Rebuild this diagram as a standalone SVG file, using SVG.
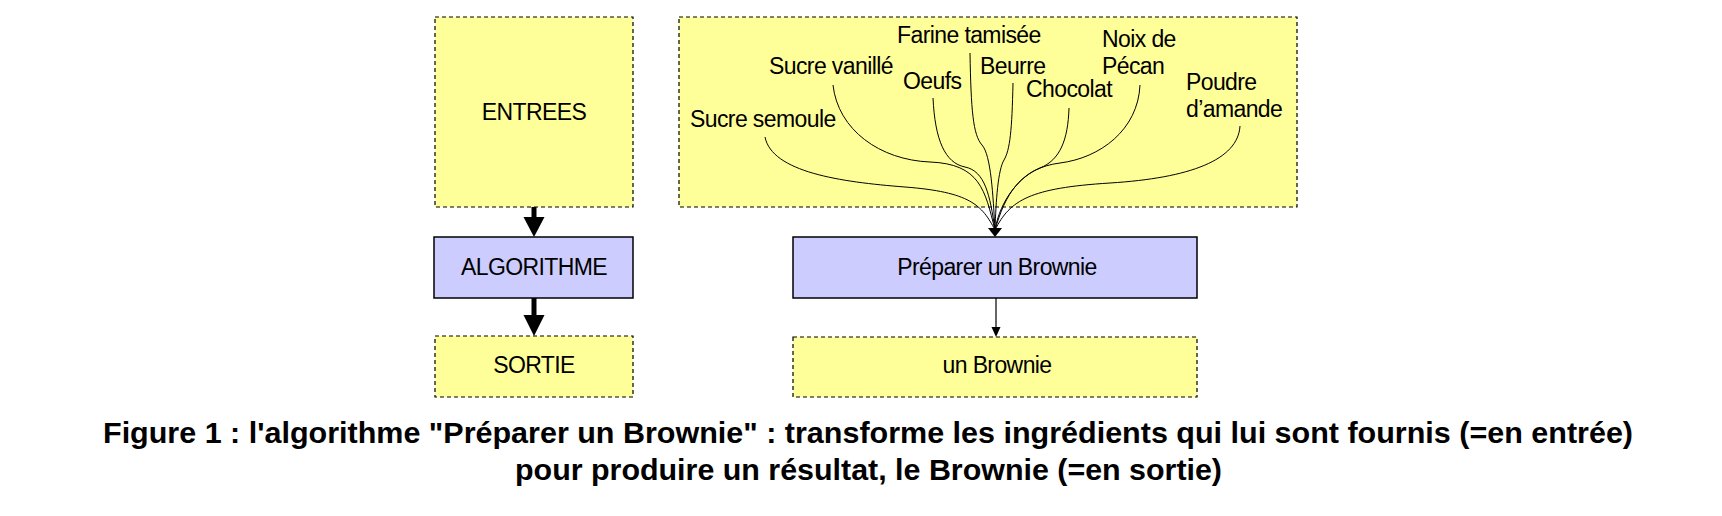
<svg xmlns="http://www.w3.org/2000/svg" width="1722" height="516" viewBox="0 0 1722 516">
<style>
.yel{fill:#ffff99;stroke:#000;stroke-width:1.2;stroke-dasharray:4,3}
.blu{fill:#ccccff;stroke:#000;stroke-width:1.5}
.t{font-family:"Liberation Sans",Arial,sans-serif;font-size:23px;letter-spacing:-0.6px;fill:#000}
.c{text-anchor:middle}
.cap{font-family:"Liberation Sans",Arial,sans-serif;font-size:30px;font-weight:bold;fill:#000}
.fan{fill:none;stroke:#000;stroke-width:1}
</style>
<rect width="1722" height="516" fill="#fff"/>
<g id="entrees"><rect class="yel" x="435" y="17" width="198" height="190"/><text class="t c" x="534" y="120">ENTREES</text></g>
<g id="algorithme"><rect class="blu" x="434" y="237" width="199" height="61"/><text class="t c" x="534" y="275">ALGORITHME</text></g>
<g id="sortie"><rect class="yel" x="435" y="336" width="198" height="61"/><text class="t c" x="534" y="373">SORTIE</text></g>
<g id="ingredients">
<rect class="yel" x="679" y="17" width="618" height="190"/>
<text class="t" x="690" y="127">Sucre semoule</text>
<text class="t" x="769" y="74">Sucre vanillé</text>
<text class="t" x="897" y="43">Farine tamisée</text>
<text class="t" x="903" y="89">Oeufs</text>
<text class="t" x="980" y="74">Beurre</text>
<text class="t" x="1026" y="97">Chocolat</text>
<text class="t" x="1102" y="47">Noix de</text>
<text class="t" x="1102" y="74">Pécan</text>
<text class="t" x="1186" y="90">Poudre</text>
<text class="t" x="1186" y="117">d’amande</text>
</g>
<g id="preparer"><rect class="blu" x="793" y="237" width="404" height="61"/><text class="t c" x="997" y="275">Préparer un Brownie</text></g>
<g id="brownie"><rect class="yel" x="793" y="337" width="404" height="60"/><text class="t c" x="997" y="373">un Brownie</text></g>
<g id="connectors">
<line x1="534" y1="207" x2="534" y2="218" stroke="#000" stroke-width="5"/>
<polygon points="523.5,217 544.5,217 534,237" fill="#000"/>
<line x1="534" y1="298" x2="534" y2="316" stroke="#000" stroke-width="5"/>
<polygon points="523.5,315 544.5,315 534,336" fill="#000"/>
<line x1="996" y1="298" x2="996" y2="328" stroke="#000" stroke-width="1.2"/>
<polygon points="991.5,327 1000.5,327 996,337" fill="#000"/>
<path class="fan" d="M765,137 C772,172 840,182 905,187 S982,205 995,230"/>
<path class="fan" d="M833,85 C838,130 880,160 930,162 S985,190 995,230"/>
<path class="fan" d="M933,98 C935,140 945,163 965,167 S990,195 995,230"/>
<path class="fan" d="M970,53 C971,110 973,135 982,145 S993,195 995,230"/>
<path class="fan" d="M1013,83 C1012,130 1010,150 1004,160 S996,200 995,230"/>
<path class="fan" d="M1069,108 C1068,140 1060,160 1040,168 S1000,200 995,230"/>
<path class="fan" d="M1140,85 C1138,130 1100,158 1060,163 S1005,195 995,230"/>
<path class="fan" d="M1240,126 C1238,160 1190,178 1110,183 S1010,200 995,230"/>
<polygon points="988,228 1002,228 995,237" fill="#000"/>
</g>
<g id="caption">
<text class="cap" x="103" y="443" textLength="1530" lengthAdjust="spacingAndGlyphs">Figure 1 : l'algorithme "Préparer un Brownie" : transforme les ingrédients qui lui sont fournis (=en entrée)</text>
<text class="cap" x="515" y="480" textLength="707" lengthAdjust="spacingAndGlyphs">pour produire un résultat, le Brownie (=en sortie)</text>
</g>
</svg>
